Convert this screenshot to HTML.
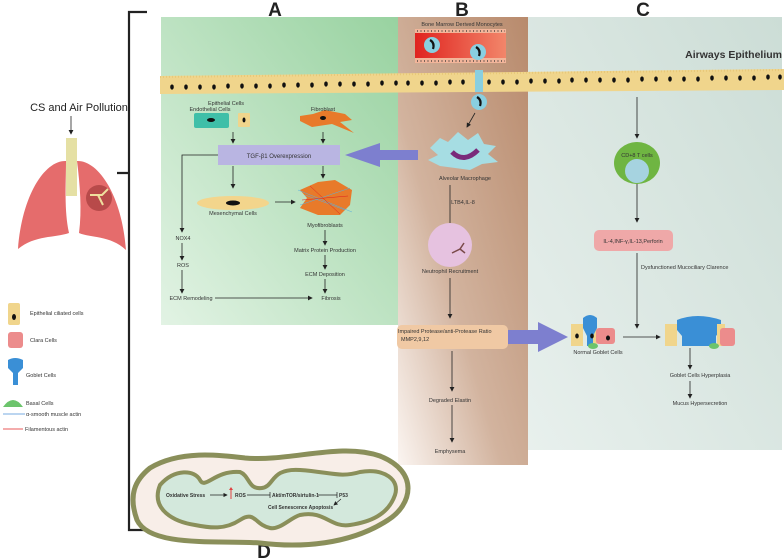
<!DOCTYPE html>
<html><head><meta charset="utf-8"><style>
html,body{margin:0;padding:0;background:#fff}
svg{display:block;font-family:"Liberation Sans",sans-serif}
</style></head><body>
<svg width="784" height="560" viewBox="0 0 784 560" xmlns="http://www.w3.org/2000/svg">
<defs>
<linearGradient id="gA" x1="1" y1="0" x2="0" y2="1"><stop offset="0" stop-color="#98d2a0"/><stop offset="1" stop-color="#e2f3e4"/></linearGradient>
<linearGradient id="gB" x1="1" y1="0" x2="0" y2="1"><stop offset="0" stop-color="#b88a6c"/><stop offset="0.6" stop-color="#d2b39e"/><stop offset="1" stop-color="#fbf5f1"/></linearGradient>
<linearGradient id="gC" x1="1" y1="0" x2="0" y2="1"><stop offset="0" stop-color="#ccddd6"/><stop offset="1" stop-color="#e8f0ed"/></linearGradient>
<linearGradient id="gV" x1="0" y1="0" x2="1" y2="0"><stop offset="0" stop-color="#e0231f"/><stop offset="1" stop-color="#f2866a"/></linearGradient>
<marker id="ar" markerWidth="6" markerHeight="6" refX="5" refY="3" orient="auto"><path d="M0,0 L6,3 L0,6 z" fill="#222"/></marker>
</defs>
<rect x="161" y="17" width="238" height="308" fill="url(#gA)"/>
<rect x="398" y="17" width="130" height="448" fill="url(#gB)"/>
<rect x="528" y="17" width="254" height="433" fill="url(#gC)"/>
<g font-size="19" font-weight="bold" fill="#222" text-anchor="middle">
<text x="275" y="16">A</text><text x="462" y="16">B</text><text x="643" y="16">C</text><text x="264" y="558">D</text></g>
<text x="782" y="58" font-size="10.5" font-weight="bold" fill="#333" text-anchor="end">Airways Epithelium</text>
<path d="M147,12 H129 V530 H147 M117,173 H129" stroke="#222" stroke-width="2.2" fill="none"/>
<text x="462" y="26" font-size="5.5" fill="#333" text-anchor="middle">Bone Marrow Derived Monocytes</text>
<rect x="415" y="29" width="91" height="34" fill="#f2b59a"/>
<rect x="415" y="33" width="91" height="25" fill="url(#gV)"/>
<line x1="417" y1="31" x2="505" y2="31" stroke="#333" stroke-width="1.2" stroke-dasharray="1,2.5"/>
<line x1="417" y1="61" x2="505" y2="61" stroke="#333" stroke-width="1.2" stroke-dasharray="1,2.5"/>
<circle cx="432" cy="45" r="8" fill="#89cfe0"/><path d="M430,40 q5,3 3,9" stroke="#111" stroke-width="2.2" fill="none"/>
<circle cx="478" cy="52" r="8" fill="#89cfe0"/><path d="M476,47 q5,3 3,9" stroke="#111" stroke-width="2.2" fill="none"/>
<path d="M160,76 L784,69 L784,90 L160,94 Z" fill="#f0d58c"/>
<path d="M160,77 L784,70" stroke="#e8c878" stroke-width="2" stroke-dasharray="1,2" fill="none"/>
<rect x="475" y="70" width="8" height="22" fill="#89cfe0"/>
<circle cx="479" cy="102" r="8" fill="#89cfe0"/><path d="M477,97 q5,3 3,9" stroke="#111" stroke-width="2.2" fill="none"/>
<line x1="475" y1="113" x2="467" y2="127" stroke="#222" stroke-width="0.8" marker-end="url(#ar)"/>
<rect x="194" y="113" width="35" height="15" rx="2" fill="#3fbfa8"/><ellipse cx="211" cy="120" rx="4" ry="2" fill="#111"/>
<rect x="238" y="113" width="12" height="14" rx="1" fill="#f0d58c"/><ellipse cx="244" cy="120" rx="1.5" ry="2.5" fill="#111"/>
<path d="M300,116 L313,114 L325,110 L345,114 L352,120 L340,122 L354,133 L332,124 L312,127 L300,121 Z" fill="#e87a2a"/><ellipse cx="323" cy="118" rx="3" ry="2" fill="#111"/>
<g stroke="#222" stroke-width="0.8" fill="none" marker-end="url(#ar)">
<line x1="233" y1="132" x2="233" y2="143"/><line x1="323" y1="132" x2="323" y2="143"/>
<line x1="233" y1="166" x2="233" y2="188"/><line x1="323" y1="166" x2="323" y2="178"/>
<line x1="275" y1="202" x2="295" y2="202"/>
<line x1="325" y1="230" x2="325" y2="245"/><line x1="325" y1="255" x2="325" y2="269"/><line x1="325" y1="279" x2="325" y2="293"/>
<polyline points="218,155 182,155 182,232"/><line x1="182" y1="243" x2="182" y2="260"/><line x1="182" y1="270" x2="182" y2="293"/>
<line x1="215" y1="298" x2="312" y2="298"/>
<line x1="450" y1="185" x2="450" y2="228"/><line x1="450" y1="278" x2="450" y2="318"/>
<line x1="452" y1="351" x2="452" y2="391"/><line x1="452" y1="405" x2="452" y2="442"/>
<line x1="637" y1="97" x2="637" y2="138"/><line x1="637" y1="183" x2="637" y2="222"/><line x1="637" y1="253" x2="637" y2="328"/>
<line x1="623" y1="337" x2="660" y2="337"/><line x1="690" y1="348" x2="690" y2="369"/><line x1="690" y1="381" x2="690" y2="398"/>
</g>
<rect x="218" y="145" width="122" height="20" fill="#b9b5e2"/>
<text x="279" y="158" font-size="6" fill="#333" text-anchor="middle">TGF-β1 Overexpression</text>
<polygon points="418,150 380,150 380,143 345,155 380,167 380,160 418,160" fill="#7d7fcf"/>
<ellipse cx="233" cy="203" rx="36" ry="7" fill="#f3d58c"/><ellipse cx="233" cy="203" rx="7" ry="2.5" fill="#111"/>
<path d="M300,190 L318,182 L335,180 L352,190 L350,205 L340,215 L318,215 L300,208 L307,198 Z" fill="#e87a2a"/>
<g stroke="#5aaedd" stroke-width="0.5"><line x1="298" y1="190" x2="352" y2="212"/><line x1="300" y1="205" x2="350" y2="188"/><line x1="305" y1="195" x2="345" y2="210"/></g>
<g stroke="#e02020" stroke-width="0.5"><line x1="302" y1="200" x2="348" y2="196"/><line x1="310" y1="186" x2="340" y2="214"/></g>
<path d="M430,148 L440,138 L448,142 L458,132 L468,140 L478,133 L484,144 L496,146 L488,154 L498,162 L482,164 L470,170 L455,168 L440,166 L428,160 L438,155 Z" fill="#a6dde3"/>
<path d="M452,152 q12,12 26,-2" stroke="#7a2a7a" stroke-width="5" fill="none"/>
<circle cx="450" cy="245" r="22" fill="#e6c2e0"/>
<path d="M452,253 l8,-4 l4,-6 M460,249 l5,4" stroke="#7a4a4a" stroke-width="1.5" fill="none"/>
<rect x="397" y="325" width="111" height="24" rx="5" fill="#f0c9a4"/>
<text x="398" y="333" font-size="5.5" fill="#333">Impaired Protease/anti-Protease Ratio</text>
<text x="401" y="341" font-size="5.5" fill="#333">MMP2,9,12</text>
<polygon points="508,330 538,330 538,322 568,337 538,352 538,344 508,344" fill="#7d7fcf"/>
<ellipse cx="637" cy="163" rx="23" ry="21" fill="#6fb542"/><circle cx="637" cy="171" r="12" fill="#a6d3e0"/>
<rect x="594" y="230" width="79" height="21" rx="5" fill="#efa8a8"/>
<text x="633" y="243" font-size="5.5" fill="#333" text-anchor="middle">IL-4,INF-γ,IL-13,Perforin</text>
<text x="641" y="269" font-size="5.5" fill="#333">Dysfunctioned Mucociliary Clarence</text>
<rect x="571" y="324" width="12" height="22" fill="#f0d58c"/><rect x="587" y="324" width="10" height="22" fill="#f0d58c"/>
<path d="M583,318 q7,-6 14,0 v10 l-4,8 v10 h-6 v-10 l-4,-8 z" fill="#3a8fd6"/>
<rect x="596" y="328" width="19" height="16" rx="3" fill="#ec8c8c"/><ellipse cx="593" cy="346" rx="5" ry="3" fill="#6cc46c"/>
<g fill="#111"><ellipse cx="577" cy="336" rx="1.8" ry="2.5"/><ellipse cx="592" cy="336" rx="1.8" ry="2.5"/><ellipse cx="608" cy="338" rx="2" ry="2.5"/><ellipse cx="671" cy="336" rx="1.8" ry="2.5"/><ellipse cx="721" cy="336" rx="1.8" ry="2.5"/><ellipse cx="728" cy="338" rx="2" ry="2.5"/></g>
<rect x="665" y="324" width="12" height="22" fill="#f0d58c"/>
<path d="M677,320 q20,-8 44,0 v10 l-5,6 v10 h-34 v-10 l-5,-6 z" fill="#3a8fd6"/>
<rect x="717" y="324" width="8" height="22" fill="#f0d58c"/><rect x="720" y="328" width="15" height="18" rx="3" fill="#ec8c8c"/>
<ellipse cx="714" cy="346" rx="5" ry="3" fill="#6cc46c"/>
<g font-size="5.5" fill="#333" text-anchor="middle">
<text x="226" y="105">Epithelial Cells</text><text x="210" y="111">Endothelial Cells</text><text x="323" y="111">Fibroblast</text>
<text x="233" y="215">Mesenchymal Cells</text><text x="325" y="227">Myofibroblasts</text>
<text x="325" y="252">Matrix Protein Production</text><text x="325" y="276">ECM Deposition</text><text x="331" y="300">Fibrosis</text>
<text x="183" y="240">NOX4</text><text x="183" y="267">ROS</text><text x="191" y="300">ECM Remodeling</text>
<text x="465" y="180">Alveolar Macrophage</text><text x="463" y="204">LTB4,IL-8</text><text x="450" y="273">Neutrophil Recruitment</text>
<text x="450" y="402">Degraded Elastin</text><text x="450" y="453">Emphysema</text>
<text x="598" y="354">Normal Goblet Cells</text><text x="700" y="377">Goblet Cells Hyperplasia</text><text x="700" y="405">Mucus Hypersecretion</text>
<text x="637" y="157">CD+8 T cells</text>
</g>
<text x="79" y="111" font-size="11" fill="#222" text-anchor="middle">CS and Air Pollution</text>
<line x1="71" y1="116" x2="71" y2="134" stroke="#222" stroke-width="0.8" marker-end="url(#ar)"/>
<rect x="66" y="138" width="11" height="58" fill="#e5e0a4"/>
<path d="M66,161 C45,160 22,195 18,249 C35,235 55,238 69,233 C64,210 66,185 66,161 Z" fill="#e56c6c"/>
<path d="M77,161 C98,160 122,195 126,250 C110,235 90,238 79,233 C82,210 80,185 77,161 Z" fill="#e56c6c"/>
<circle cx="99" cy="198" r="13" fill="#b84a4a"/><path d="M90,195 l12,0 l6,-6 M98,195 l5,10" stroke="#efdf9e" stroke-width="2" fill="none"/>
<rect x="8" y="303" width="12" height="22" rx="2" fill="#f0d58c"/><ellipse cx="14" cy="317" rx="2" ry="3" fill="#111"/>
<rect x="8" y="332" width="15" height="16" rx="3" fill="#ec8c8c"/>
<path d="M8,360 q7,-4 15,0 v8 l-5,5 v12 h-5 v-12 l-5,-5 z" fill="#3a8fd6"/>
<path d="M3,407 q10,-14 20,0 z" fill="#6cc46c"/>
<line x1="3" y1="414" x2="25" y2="414" stroke="#4a8fd6" stroke-width="0.8"/>
<line x1="3" y1="429" x2="23" y2="429" stroke="#e02020" stroke-width="0.8"/>
<g font-size="5.5" fill="#333">
<text x="30" y="315">Epithelial ciliated cells</text><text x="30" y="342">Clara Cells</text><text x="26" y="377">Goblet Cells</text>
<text x="26" y="405">Basal Cells</text><text x="26" y="416">α-smooth muscle actin</text><text x="25" y="431">Filamentous actin</text></g>
<path d="M150,468 C180,450 220,455 245,458 C290,462 340,442 380,456 C420,472 412,505 388,520 C350,545 300,548 260,543 C220,540 150,548 137,520 C128,495 135,480 150,468 Z" fill="#f8eee8" stroke="#8a8f5a" stroke-width="5"/>
<path d="M160,485 C175,468 195,470 200,480 C205,490 215,470 240,472 C250,476 248,490 262,488 C275,486 270,468 300,470 C330,472 340,478 360,472 C385,468 400,480 395,495 C388,515 370,522 350,525 C330,528 325,510 300,515 C290,518 280,530 270,528 C255,525 255,510 240,520 C225,530 210,528 195,525 C175,522 150,510 160,485 Z" fill="#d3e8dc" stroke="#8a8f5a" stroke-width="4"/>
<g font-size="5" font-weight="bold" fill="#333">
<text x="166" y="497">Oxidative Stress</text><text x="235" y="497">ROS</text><text x="272" y="497">Akt/mTOR/sirtulin-1</text><text x="339" y="497">P53</text>
<text x="268" y="509">Cell Senescence Apoptosis</text></g>
<g stroke="#222" stroke-width="0.7" fill="none">
<line x1="210" y1="495" x2="227" y2="495" marker-end="url(#ar)"/>
<line x1="247" y1="495" x2="270" y2="495"/><line x1="270" y1="492" x2="270" y2="498"/>
<line x1="318" y1="495" x2="337" y2="495"/><line x1="337" y1="492" x2="337" y2="498"/>
<line x1="341" y1="499" x2="334" y2="505" marker-end="url(#ar)"/></g>
<line x1="231" y1="499" x2="231" y2="489" stroke="#e04040" stroke-width="1"/><path d="M229,490 l2,-3 l2,3z" fill="#e04040"/>
<g fill="#111">
<ellipse cx="172" cy="87" rx="1.8" ry="2.6"/><ellipse cx="186" cy="87" rx="1.8" ry="2.6"/><ellipse cx="200" cy="87" rx="1.8" ry="2.6"/><ellipse cx="214" cy="87" rx="1.8" ry="2.6"/><ellipse cx="228" cy="86" rx="1.8" ry="2.6"/><ellipse cx="242" cy="86" rx="1.8" ry="2.6"/><ellipse cx="256" cy="86" rx="1.8" ry="2.6"/><ellipse cx="270" cy="86" rx="1.8" ry="2.6"/><ellipse cx="284" cy="85" rx="1.8" ry="2.6"/><ellipse cx="298" cy="85" rx="1.8" ry="2.6"/><ellipse cx="312" cy="85" rx="1.8" ry="2.6"/><ellipse cx="326" cy="84" rx="1.8" ry="2.6"/><ellipse cx="340" cy="84" rx="1.8" ry="2.6"/><ellipse cx="354" cy="84" rx="1.8" ry="2.6"/><ellipse cx="368" cy="84" rx="1.8" ry="2.6"/><ellipse cx="382" cy="83" rx="1.8" ry="2.6"/><ellipse cx="396" cy="83" rx="1.8" ry="2.6"/><ellipse cx="408" cy="83" rx="1.8" ry="2.6"/><ellipse cx="422" cy="83" rx="1.8" ry="2.6"/><ellipse cx="436" cy="83" rx="1.8" ry="2.6"/><ellipse cx="450" cy="82" rx="1.8" ry="2.6"/><ellipse cx="463" cy="82" rx="1.8" ry="2.6"/><ellipse cx="489" cy="82" rx="1.8" ry="2.6"/><ellipse cx="503" cy="82" rx="1.8" ry="2.6"/><ellipse cx="517" cy="82" rx="1.8" ry="2.6"/><ellipse cx="531" cy="81" rx="1.8" ry="2.6"/><ellipse cx="545" cy="81" rx="1.8" ry="2.6"/><ellipse cx="559" cy="81" rx="1.8" ry="2.6"/><ellipse cx="572" cy="80" rx="1.8" ry="2.6"/><ellipse cx="586" cy="80" rx="1.8" ry="2.6"/><ellipse cx="600" cy="80" rx="1.8" ry="2.6"/><ellipse cx="614" cy="80" rx="1.8" ry="2.6"/><ellipse cx="628" cy="80" rx="1.8" ry="2.6"/><ellipse cx="642" cy="79" rx="1.8" ry="2.6"/><ellipse cx="656" cy="79" rx="1.8" ry="2.6"/><ellipse cx="670" cy="79" rx="1.8" ry="2.6"/><ellipse cx="684" cy="79" rx="1.8" ry="2.6"/><ellipse cx="698" cy="79" rx="1.8" ry="2.6"/><ellipse cx="712" cy="78" rx="1.8" ry="2.6"/><ellipse cx="726" cy="78" rx="1.8" ry="2.6"/><ellipse cx="740" cy="78" rx="1.8" ry="2.6"/><ellipse cx="754" cy="78" rx="1.8" ry="2.6"/><ellipse cx="768" cy="77" rx="1.8" ry="2.6"/><ellipse cx="780" cy="77" rx="1.8" ry="2.6"/>
</g>
</svg>
</body></html>
